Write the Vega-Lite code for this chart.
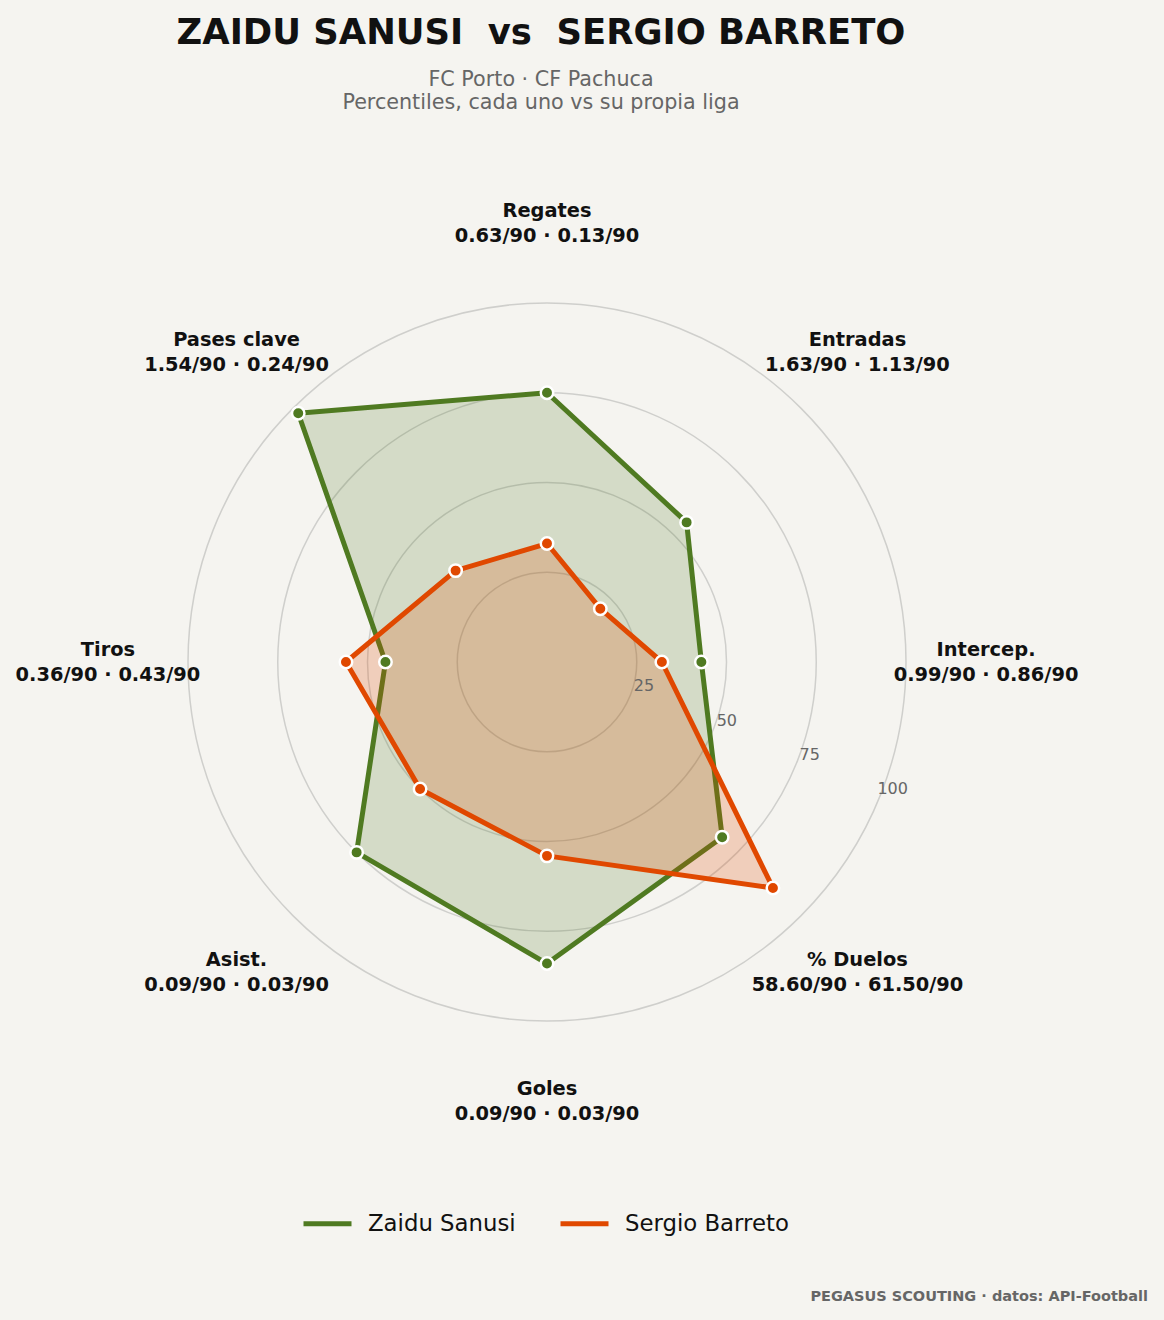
{
  "$schema": "https://vega.github.io/schema/vega-lite/v6.json",
  "width": 718,
  "height": 718,
  "autosize": {"type": "none"},
  "padding": {"left": 188, "top": 303, "right": 258, "bottom": 299},
  "background": "#f5f4f0",
  "title": {
    "text": "ZAIDU SANUSI\u00a0 vs \u00a0SERGIO BARRETO",
    "subtitle": ["FC Porto · CF Pachuca", "Percentiles, cada uno vs su propia liga"],
    "anchor": "middle",
    "frame": "group",
    "offset": 88,
    "font": "DejaVu Sans",
    "fontSize": 35.4,
    "fontWeight": "bold",
    "color": "#111111",
    "subtitleFont": "DejaVu Sans",
    "subtitleFontSize": 20.7,
    "subtitleColor": "#666666",
    "subtitlePadding": 19,
    "subtitleLineHeight": 23,
    "dx": -6
  },
  "datasets": {
    "pct": [
      {"metric": "Regates", "idx": 0, "player": "Zaidu Sanusi", "value": 75},
      {"metric": "Entradas", "idx": 1, "player": "Zaidu Sanusi", "value": 55},
      {"metric": "Intercep.", "idx": 2, "player": "Zaidu Sanusi", "value": 43},
      {"metric": "% Duelos", "idx": 3, "player": "Zaidu Sanusi", "value": 69},
      {"metric": "Goles", "idx": 4, "player": "Zaidu Sanusi", "value": 84},
      {"metric": "Asist.", "idx": 5, "player": "Zaidu Sanusi", "value": 75},
      {"metric": "Tiros", "idx": 6, "player": "Zaidu Sanusi", "value": 45},
      {"metric": "Pases clave", "idx": 7, "player": "Zaidu Sanusi", "value": 98},
      {"metric": "Regates", "idx": 0, "player": "Sergio Barreto", "value": 33},
      {"metric": "Entradas", "idx": 1, "player": "Sergio Barreto", "value": 21},
      {"metric": "Intercep.", "idx": 2, "player": "Sergio Barreto", "value": 32},
      {"metric": "% Duelos", "idx": 3, "player": "Sergio Barreto", "value": 89},
      {"metric": "Goles", "idx": 4, "player": "Sergio Barreto", "value": 54},
      {"metric": "Asist.", "idx": 5, "player": "Sergio Barreto", "value": 50},
      {"metric": "Tiros", "idx": 6, "player": "Sergio Barreto", "value": 56},
      {"metric": "Pases clave", "idx": 7, "player": "Sergio Barreto", "value": 36}
    ],
    "axes": [
      {"idx": 0, "label": "Regates\n0.63/90 · 0.13/90"},
      {"idx": 1, "label": "Entradas\n1.63/90 · 1.13/90"},
      {"idx": 2, "label": "Intercep.\n0.99/90 · 0.86/90"},
      {"idx": 3, "label": "% Duelos\n58.60/90 · 61.50/90"},
      {"idx": 4, "label": "Goles\n0.09/90 · 0.03/90"},
      {"idx": 5, "label": "Asist.\n0.09/90 · 0.03/90"},
      {"idx": 6, "label": "Tiros\n0.36/90 · 0.43/90"},
      {"idx": 7, "label": "Pases clave\n1.54/90 · 0.24/90"}
    ],
    "rings": [{"r": 25}, {"r": 50}, {"r": 75}, {"r": 100}]
  },
  "layer": [
    {
      "data": {"name": "rings"},
      "mark": {"type": "arc", "filled": false, "stroke": "#cfcfcc", "strokeWidth": 1.5, "theta": 0, "theta2": 6.2832},
      "encoding": {
        "x": {"datum": 0, "type": "quantitative", "scale": {"domain": [-100, 100]}, "axis": null},
        "y": {"datum": 0, "type": "quantitative", "scale": {"domain": [-100, 100]}, "axis": null},
        "radius": {"field": "r", "type": "quantitative", "stack": null, "scale": {"type": "linear", "domain": [0, 100], "range": [0, 359], "zero": true}}
      }
    },
    {
      "data": {"name": "pct"},
      "transform": [
        {"filter": "datum.player === 'Zaidu Sanusi'"},
        {"calculate": "datum.value * sin(datum.idx * PI / 4)", "as": "px"},
        {"calculate": "datum.value * cos(datum.idx * PI / 4)", "as": "py"}
      ],
      "mark": {"type": "line", "interpolate": "linear-closed", "strokeWidth": 5, "fill": "#4f7a21", "fillOpacity": 0.2, "strokeJoin": "round"},
      "encoding": {
        "x": {"field": "px", "type": "quantitative"},
        "y": {"field": "py", "type": "quantitative"},
        "order": {"field": "idx"},
        "color": {
          "field": "player", "type": "nominal",
          "scale": {"domain": ["Zaidu Sanusi", "Sergio Barreto"], "range": ["#4f7a21", "#e04800"]},
          "legend": {
            "orient": "none", "legendX": 113, "legendY": 894, "direction": "horizontal", "title": null,
            "symbolType": "stroke", "symbolSize": 2304, "symbolStrokeWidth": 5,
            "labelFontSize": 22.8, "labelFont": "DejaVu Sans", "labelColor": "#111111",
            "labelOffset": 14, "columnPadding": 34, "labelLimit": 400
          }
        }
      }
    },
    {
      "data": {"name": "pct"},
      "transform": [
        {"filter": "datum.player === 'Sergio Barreto'"},
        {"calculate": "datum.value * sin(datum.idx * PI / 4)", "as": "px"},
        {"calculate": "datum.value * cos(datum.idx * PI / 4)", "as": "py"}
      ],
      "mark": {"type": "line", "interpolate": "linear-closed", "strokeWidth": 5, "fill": "#e04800", "fillOpacity": 0.22, "strokeJoin": "round"},
      "encoding": {
        "x": {"field": "px", "type": "quantitative"},
        "y": {"field": "py", "type": "quantitative"},
        "order": {"field": "idx"},
        "color": {"field": "player", "type": "nominal"}
      }
    },
    {
      "data": {"name": "pct"},
      "transform": [
        {"calculate": "datum.value * sin(datum.idx * PI / 4)", "as": "px"},
        {"calculate": "datum.value * cos(datum.idx * PI / 4)", "as": "py"}
      ],
      "mark": {"type": "point", "filled": true, "size": 155, "stroke": "white", "strokeWidth": 2.5, "opacity": 1},
      "encoding": {
        "x": {"field": "px", "type": "quantitative"},
        "y": {"field": "py", "type": "quantitative"},
        "color": {"field": "player", "type": "nominal"}
      }
    },
    {
      "data": {"name": "rings"},
      "transform": [
        {"calculate": "datum.r * cos(PI / 8)", "as": "tx"},
        {"calculate": "-datum.r * sin(PI / 8)", "as": "ty"}
      ],
      "mark": {"type": "text", "dx": 14, "dy": -10, "fontSize": 16, "font": "DejaVu Sans", "color": "#666666", "align": "center", "baseline": "middle"},
      "encoding": {
        "x": {"field": "tx", "type": "quantitative"},
        "y": {"field": "ty", "type": "quantitative"},
        "text": {"field": "r", "type": "quantitative"}
      }
    },
    {
      "data": {"name": "axes"},
      "transform": [
        {"calculate": "122.3 * sin(datum.idx * PI / 4)", "as": "lx"},
        {"calculate": "122.3 * cos(datum.idx * PI / 4)", "as": "ly"}
      ],
      "mark": {"type": "text", "lineBreak": "\n", "lineHeight": 25, "dy": -12, "fontSize": 19.4, "fontWeight": "bold", "font": "DejaVu Sans", "color": "#111111", "align": "center", "baseline": "middle"},
      "encoding": {
        "x": {"field": "lx", "type": "quantitative"},
        "y": {"field": "ly", "type": "quantitative"},
        "text": {"field": "label", "type": "nominal"}
      }
    },
    {
      "data": {"values": [{"t": "PEGASUS SCOUTING · datos: API-Football"}]},
      "mark": {"type": "text", "fontSize": 14.5, "fontWeight": "bold", "font": "DejaVu Sans", "color": "#666666", "align": "right", "baseline": "middle"},
      "encoding": {
        "x": {"datum": 167.4, "type": "quantitative"},
        "y": {"datum": -176.9, "type": "quantitative"},
        "text": {"field": "t", "type": "nominal"}
      }
    }
  ],
  "config": {"view": {"stroke": null}}
}
